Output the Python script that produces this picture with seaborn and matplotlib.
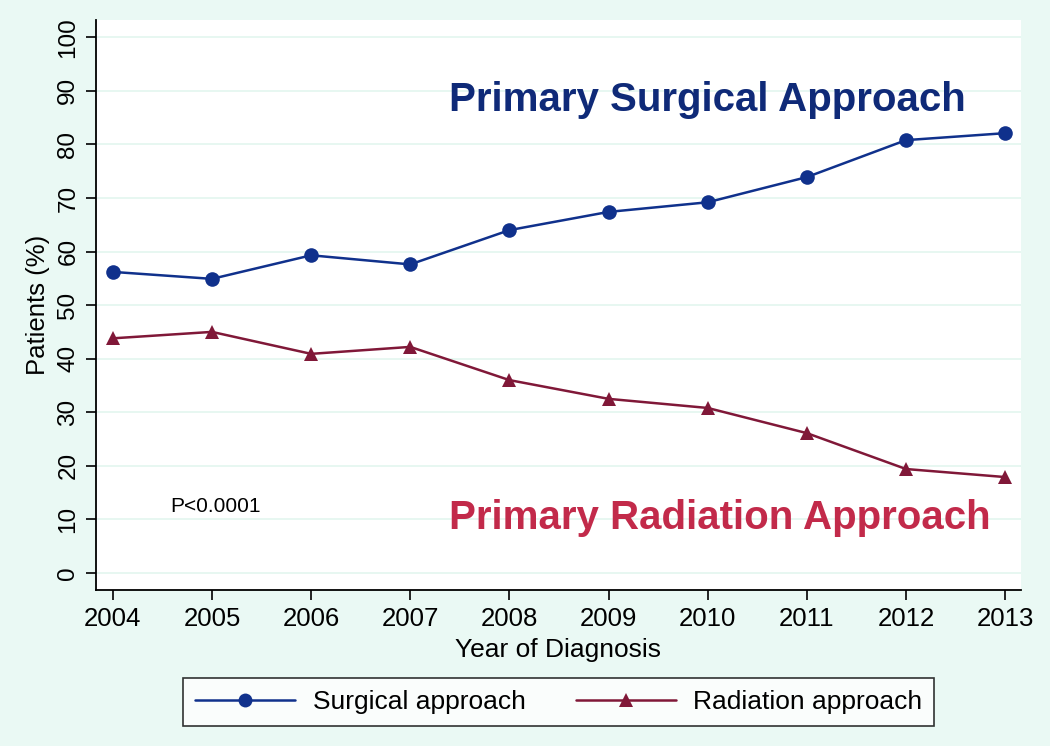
import pandas as pd
import seaborn as sns
import matplotlib.pyplot as plt
from matplotlib.lines import Line2D

# values
years = [2004, 2005, 2006, 2007, 2008, 2009, 2010, 2011, 2012, 2013]
surgical = [56.2, 54.9, 59.3, 57.6, 64.0, 67.4, 69.2, 73.9, 80.8, 82.1]
radiation = [43.8, 45.0, 40.9, 42.2, 36.0, 32.5, 30.8, 26.1, 19.4, 17.9]
series_names = ['Surgical approach', 'Radiation approach']
yticks = [0, 10, 20, 30, 40, 50, 60, 70, 80, 90, 100]

bg = '#eaf9f4'
blue = '#10318c'
maroon = '#801838'

df = pd.DataFrame({'year': years * 2,
                   'pct': surgical + radiation,
                   'approach': [series_names[0]] * len(years) + [series_names[1]] * len(years)})

sns.set_style('white')
plt.rcParams['font.family'] = ['Liberation Sans', 'DejaVu Sans']
plt.rcParams['text.color'] = 'black'
plt.rcParams['axes.labelcolor'] = 'black'
plt.rcParams['xtick.color'] = 'black'
plt.rcParams['ytick.color'] = 'black'

fig = plt.figure(figsize=(10.5, 7.46), dpi=100, facecolor=bg)
ax = fig.add_axes([0.0914, 0.209, 0.881, 0.764])
ax.set_facecolor('white')

sns.lineplot(data=df, x='year', y='pct', hue='approach', style='approach',
             palette={series_names[0]: blue, series_names[1]: maroon},
             markers={series_names[0]: 'o', series_names[1]: '^'},
             dashes=False, markersize=10.5, linewidth=1.8, markeredgewidth=0,
             legend=False, ax=ax)

ax.set_xlim(2003.83, 2013.16)
ax.set_ylim(-3.2, 103.2)
ax.set_xticks(years)
ax.set_yticks(yticks)
ax.yaxis.grid(True, color='#e3f6ef', linewidth=1.2)
ax.set_axisbelow(True)
ax.tick_params(axis='both', length=7, width=1.2, color='black',
               bottom=True, left=True)
ax.tick_params(axis='x', labelsize=18.5, pad=5)
ax.tick_params(axis='y', labelsize=17.5, pad=5)
for lab in ax.get_yticklabels():
    lab.set_rotation(90)
    lab.set_va('center')
for side in ['top', 'right']:
    ax.spines[side].set_visible(False)
for side in ['left', 'bottom']:
    ax.spines[side].set_color('black')
    ax.spines[side].set_linewidth(1.3)

ax.set_xlabel('Year of Diagnosis', fontsize=19, labelpad=5)
ax.set_ylabel('Patients (%)', fontsize=18.5, labelpad=5)

ax.text(2010.0, 88.3, 'Primary Surgical Approach', color='#0f2a78',
        fontsize=29, fontweight='bold', ha='center', va='center')
ax.text(2010.12, 10.3, 'Primary Radiation Approach', color='#c22a4a',
        fontsize=29, fontweight='bold', ha='center', va='center')
ax.text(2004.58, 12.4, 'P<0.0001', fontsize=15, ha='left', va='center')

handles = [Line2D([], [], color=blue, marker='o', markersize=10, linewidth=1.8, markeredgewidth=0),
           Line2D([], [], color=maroon, marker='^', markersize=10, linewidth=1.8, markeredgewidth=0)]
leg = fig.legend(handles, series_names, loc='center', bbox_to_anchor=(0.532, 0.059),
                 ncol=2, fontsize=19, frameon=True, fancybox=False,
                 handlelength=3.8, columnspacing=1.9, borderpad=0.45, handletextpad=0.65)
leg.get_frame().set_edgecolor('black')
leg.get_frame().set_linewidth(1.2)

fig.savefig('out.png', dpi=100, facecolor=bg)
